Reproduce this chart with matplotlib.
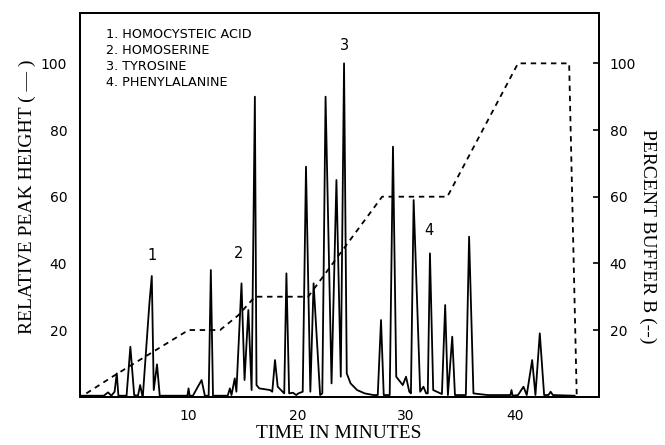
import matplotlib
matplotlib.use('Agg')
import matplotlib.pyplot as plt

# chromatogram trace (time in minutes, relative peak height)
trace_t = [0.0, 2.2, 2.6, 2.9, 3.2, 3.4, 3.55, 4.3, 4.65, 5.0, 5.35, 5.55, 5.75,
           5.8, 6.4, 6.62, 6.8, 7.1, 7.35, 9.9, 10.0, 10.1, 10.4, 11.2, 11.5, 11.85,
           12.05, 12.25, 13.6, 13.8, 13.95, 14.25, 14.4, 14.87, 15.15, 15.5, 15.8,
           16.1, 16.25, 16.5, 17.5, 17.7, 17.95, 18.2, 18.5, 18.8, 19.0, 19.25, 19.6,
           19.9, 20.1, 20.5, 20.8, 21.2, 21.5, 22.1, 22.3, 22.6, 23.15, 23.6, 24.0,
           24.3, 24.55, 24.9, 25.5, 26.2, 27.0, 27.4, 27.7, 27.95, 28.5, 28.8, 29.1,
           29.7, 30.0, 30.3, 30.45, 30.7, 31.3, 31.6, 31.85, 32.0, 32.2, 32.5, 33.3,
           33.6, 33.85, 34.25, 34.5, 35.5, 35.8, 36.2, 36.7, 37.5, 39.6, 39.7, 39.8,
           40.3, 40.8, 41.1, 41.6, 41.9, 42.3, 42.7, 43.1, 43.3, 43.5, 45.5]
trace_h = [0.3, 0.3, 1.3, 0.3, 1.5, 7, 0.3, 0.3, 15, 0.5, 0.3, 3.5, 0.3,
           0.3, 28, 36.2, 2, 9.7, 0.3, 0.3, 2.5, 0.3, 0.3, 5, 0.3, 0.3,
           38, 0.3, 0.3, 2.5, 0.5, 5.5, 1.5, 34, 5, 26, 2,
           90, 3.5, 2.5, 2, 1.5, 11, 3, 2, 1, 37, 1, 1.2,
           0.5, 1, 1.5, 69, 1.5, 34, 0.5, 1, 90, 4, 65, 6,
           100, 7, 4, 2, 1, 0.5, 0.5, 23, 0.5, 0.5, 75, 6,
           3.5, 6, 1.5, 1, 59, 1.5, 3, 1, 1, 43, 2, 0.8,
           27.5, 0.5, 18, 0.5, 0.5, 48, 1, 0.8, 0.5, 0.5, 2, 0.3,
           0.5, 3, 0.5, 11, 0.5, 19, 0.5, 0.5, 1.5, 0.5, 0.3]

# gradient program (percent buffer B)
grad_t = [0.6, 3.0, 6.0, 8.5, 10.0, 12.9, 14.6, 16.1, 21.0, 27.8, 33.8, 40.3, 45.0, 45.7]
grad_b = [1, 6, 12, 17, 20, 20, 24.5, 30, 30, 60, 60, 100, 100, 0]

peak_labels = ['1', '2', '3', '4']
peak_t = [6.6, 14.6, 24.3, 32.1]
peak_y = [42.5, 43, 105.5, 50]

compounds = ['1. HOMOCYSTEIC ACID', '2. HOMOSERINE', '3. TYROSINE', '4. PHENYLALANINE']

x_ticks = [10, 20, 30, 40]
y_ticks = [20, 40, 60, 80, 100]

fig = plt.figure(figsize=(6.65, 4.45), dpi=100)
ax = fig.add_axes([0.120, 0.1085, 0.780, 0.8615])

ax.plot(trace_t, trace_h, color='black', lw=1.3)
ax.plot(grad_t, grad_b, color='black', lw=1.3, dashes=(3.0, 2.6))

ax.set_xlim(0, 47.7)
ax.set_ylim(0, 115)
ax.set_xticks(x_ticks)
ax.set_yticks(y_ticks)
ax.tick_params(axis='both', length=0, labelsize=10, pad=9)
for s in ax.spines.values():
    s.set_linewidth(1.4)

ax2 = ax.twinx()
ax2.set_ylim(0, 115)
ax2.set_yticks(y_ticks)
ax2.tick_params(axis='y', direction='in', length=4, width=1.2, labelsize=10, pad=8)
for s in ax2.spines.values():
    s.set_linewidth(1.4)

# peak numbers
for lab, t, y in zip(peak_labels, peak_t, peak_y):
    ax.text(t, y, lab, ha='center', va='center', fontsize=10.5)

# compound list
for i, name in enumerate(compounds):
    ax.text(2.45, 108.8 - 4.8 * i, name, ha='left', va='center', fontsize=9.2,
            family=['Liberation Sans Narrow', 'DejaVu Sans'])

fig.text(0.5 * (0.120 + 0.900), 0.025, 'TIME IN MINUTES', ha='center', va='center',
         fontsize=14, family='Liberation Serif')
fig.text(0.041, 0.557, 'RELATIVE PEAK HEIGHT ( \u2014 )', ha='center', va='center',
         rotation=90, fontsize=14, family='Liberation Serif')
fig.text(0.974, 0.47, 'PERCENT BUFFER B (--)', ha='center', va='center',
         rotation=270, fontsize=14, family='Liberation Serif')

fig.savefig('out.png', dpi=100)
